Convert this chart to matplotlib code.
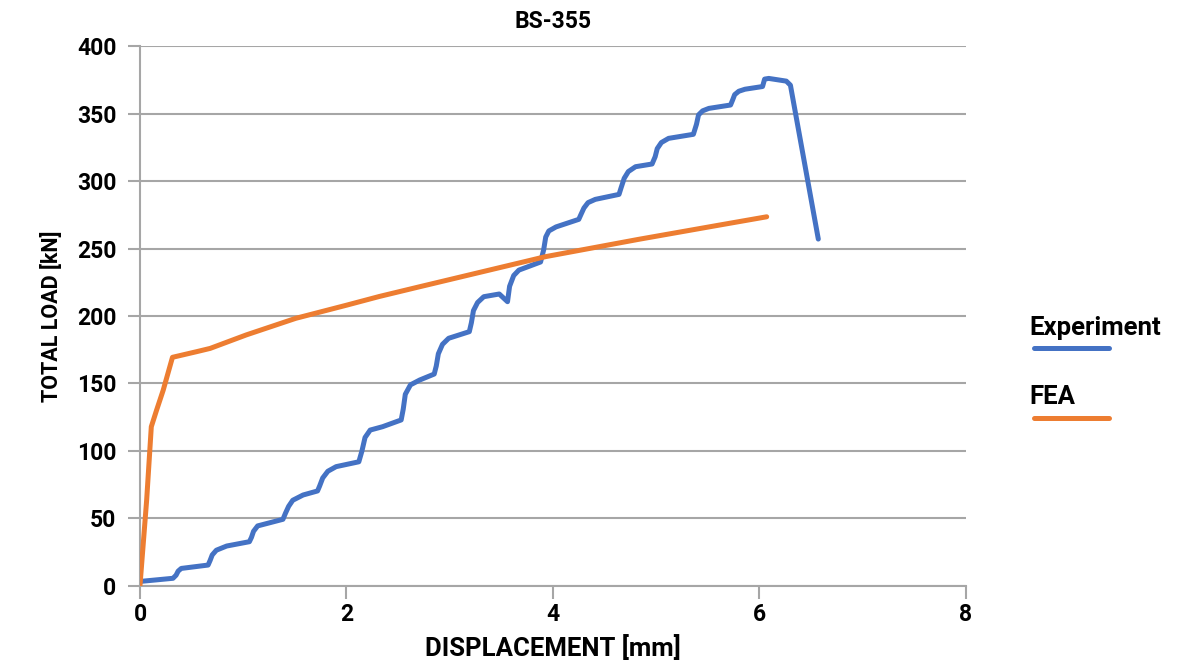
import numpy as np
import matplotlib
matplotlib.use("Agg")
import matplotlib.pyplot as plt

plt.rcParams['font.family'] = ['Roboto', 'DejaVu Sans']

# === DATA ===
exp_disp = [0.0, 0.02, 0.32, 0.35, 0.37, 0.40, 0.66, 0.68, 0.70, 0.74, 0.84, 1.06, 1.08, 1.10, 1.14,
            1.385, 1.41, 1.44, 1.48, 1.58, 1.72, 1.74, 1.77, 1.82, 1.90, 2.12, 2.15, 2.18, 2.23, 2.35,
            2.53, 2.55, 2.57, 2.62, 2.71, 2.85, 2.87, 2.89, 2.93, 2.99, 3.19, 3.21, 3.23, 3.27, 3.33,
            3.48, 3.56, 3.58, 3.62, 3.67, 3.88, 3.91, 3.93, 3.96, 4.03, 4.25, 4.27, 4.30, 4.34, 4.41,
            4.64, 4.66, 4.69, 4.73, 4.80, 4.96, 4.99, 5.01, 5.05, 5.12, 5.36, 5.39, 5.41, 5.45, 5.51,
            5.72, 5.74, 5.76, 5.80, 5.86, 6.03, 6.05, 6.09, 6.15, 6.26, 6.30, 6.57]
exp_load = [3, 3.5, 5.7, 8, 11, 13, 15.5, 19, 23, 26.5, 29.6, 32.8, 36, 40.5, 44.5,
            49.4, 54, 59, 63.5, 67.4, 70.4, 74, 80, 85, 88.4, 92, 100, 110, 115.5, 118,
            123, 131, 142, 149, 152.6, 157, 163, 172, 179, 183.5, 188.4, 195, 204, 210, 214.3,
            216.3, 210.6, 222, 230, 234, 240, 249, 258.5, 263, 266, 271.6, 275, 280, 284, 286.4,
            290.1, 295, 302, 307, 310.6, 312.6, 318, 324, 328.5, 331.6, 334.6, 342, 349, 352, 353.8,
            356.3, 360, 364, 366.5, 368, 370, 375.5, 376, 375.3, 374, 371, 257]

fea_disp = [0.0, 0.065, 0.11, 0.16, 0.225, 0.315, 0.55, 0.68, 1.03, 1.51, 2.0, 2.32,
            2.71, 3.93, 4.83, 5.60, 6.07]
fea_load = [0, 63.7, 118, 130, 145, 169.4, 173.6, 176, 186, 198.3, 208, 214.5,
            221.7, 244, 256.8, 267.2, 273.5]

x_ticks = [0, 2, 4, 6, 8]
y_ticks = [0, 50, 100, 150, 200, 250, 300, 350, 400]

blue = '#4472C4'
orange = '#ED7D31'
grid_col = '#A6A6A6'

fig = plt.figure(figsize=(11.79, 6.70), dpi=100)
ax = fig.add_axes([0.1187, 0.1254, 0.7006, 0.8059])

ax.plot(exp_disp, exp_load, color=blue, lw=3.6, solid_joinstyle='round',
        solid_capstyle='round', label='Experiment', zorder=3)
ax.plot(fea_disp, fea_load, color=orange, lw=3.6, solid_joinstyle='round',
        solid_capstyle='round', label='FEA', zorder=3)

ax.set_xlim(0, 8)
ax.set_ylim(0, 400)
ax.set_xticks(x_ticks)
ax.set_yticks(y_ticks)
ax.yaxis.grid(True, color=grid_col, lw=1.5)
ax.set_axisbelow(True)

for s in ['top', 'right']:
    ax.spines[s].set_visible(False)
for s in ['left', 'bottom']:
    ax.spines[s].set_color(grid_col)
    ax.spines[s].set_linewidth(1.5)

ax.tick_params(axis='both', colors=grid_col, width=1.5, length=9, direction='out')
ax.tick_params(axis='both', labelcolor='black', labelsize=16.5)
for lab in ax.get_xticklabels() + ax.get_yticklabels():
    lab.set_fontweight('bold')
ax.tick_params(axis='y', pad=8)
ax.tick_params(axis='x', pad=3)

ax.set_title('BS-355', fontsize=16.5, fontweight='bold', pad=13)
ax.set_xlabel('DISPLACEMENT [mm]', fontsize=18.5, fontweight='bold', labelpad=7)
ax.set_ylabel('TOTAL LOAD [kN]', fontsize=15.5, fontweight='bold', labelpad=10)

# legend: label above a short line sample
fig.text(1029 / 1179, 1 - 328 / 670, 'Experiment', fontsize=18.5, fontweight='bold',
         va='center', ha='left')
fig.add_artist(plt.Line2D([1034 / 1179, 1109 / 1179], [1 - 348 / 670] * 2, color=blue,
                          lw=3.6, solid_capstyle='round'))
fig.text(1029 / 1179, 1 - 397 / 670, 'FEA', fontsize=18.5, fontweight='bold',
         va='center', ha='left')
fig.add_artist(plt.Line2D([1034 / 1179, 1109 / 1179], [1 - 418 / 670] * 2, color=orange,
                          lw=3.6, solid_capstyle='round'))

fig.savefig('out.png', dpi=100)
